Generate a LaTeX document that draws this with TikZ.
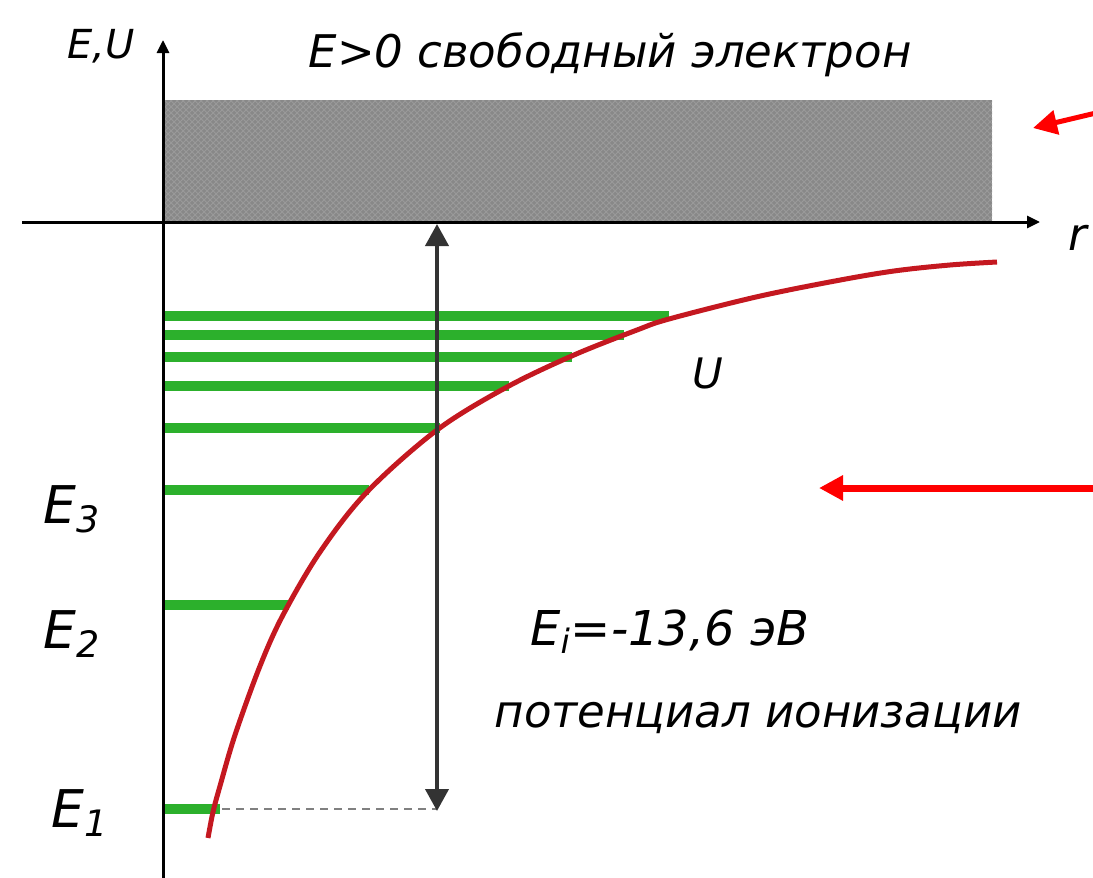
\documentclass[tikz,border=0pt]{standalone}
\usepackage{fontspec}
\setmainfont{DejaVu Sans}
\usetikzlibrary{arrows.meta,patterns}

\definecolor{levelgreen}{RGB}{44,176,44}
\definecolor{curvered}{RGB}{196,24,32}
\definecolor{bandgray}{RGB}{136,136,136}

\begin{document}
\begin{tikzpicture}[x=0.5pt,y=-0.5pt,
  level/.style={levelgreen,line width=5pt},
  lbl/.style={font=\itshape\fontsize{22.5}{26}\selectfont,inner sep=0pt,anchor=base},
  biglbl/.style={lbl,font=\itshape\fontsize{26}{30}\selectfont},
  pointer/.style={red,-{Triangle[length=12pt,width=12pt]}},
  axis/.style={line width=1.5pt,-{Triangle[length=6.5pt,width=6pt]}}]
\useasboundingbox (0,0) rectangle (1093,878);

% Points of the axes
\coordinate (ybot) at (163,878);
\coordinate (ytop) at (163,40);
\coordinate (xleft) at (22,222);
\coordinate (xright) at (1040,222);

% Band of free states
\fill[bandgray] (163,100) rectangle (992,222);
\fill[pattern=crosshatch,pattern color=bandgray!85!white] (163,100) rectangle (992,222);

% Energy levels
\foreach \y/\xe in {316/669,335/624,357/572,386/509,428/440,490/369,605/289,809/220}
  \draw[level] (163,\y) -- (\xe,\y);

% Potential energy U(r)
\draw[curvered,line width=2.5pt] plot[smooth,tension=0.55] coordinates {
  (208,838) (213,812) (220,786) (235,735) (260,666) (283,615) (320,552)
  (367,492) (437,430) (507,387) (574,355) (637,330) (669,319) (756,297)
  (835,281) (894,271) (950,265) (997,262)};

% Axes
\draw[axis] (ybot) -- (ytop);
\draw[axis] (xleft) -- (xright);

% Ionization energy
\coordinate (ionTop) at (437,224);
\coordinate (ionBot) at (437,811);
\coordinate (lvlOne) at (222,809);
\draw[gray,line width=1pt,dash pattern=on 4pt off 3pt] (lvlOne) -- (ionBot |- lvlOne);
\draw[black!80,line width=2pt,{Triangle[length=11pt,width=11.5pt]}-{Triangle[length=11pt,width=11.5pt]}] (ionTop) -- (ionBot);

% Red pointers
\coordinate (pA) at (1096,113);
\coordinate (pAtip) at (1033,128);
\coordinate (pB) at (1096,488);
\coordinate (pBtip) at (819,488);
\draw[pointer,line width=2.5pt] (pA) -- (pAtip);
\draw[pointer,line width=3.5pt] (pB) -- (pBtip);

% Labels
\node[lbl,font=\itshape\fontsize{20}{24}\selectfont] (EU) at (101,58) {E,U};
\node[lbl] (free) at (610,68) {E>0 свободный электрон};
\node[lbl] (rlbl) at (1078,250) {r};
\node[lbl,font=\itshape\fontsize{21}{25}\selectfont] (Ulbl) at (708,388) {U};
\node[biglbl] (E3) at (72,523) {E\textsubscript{3}};
\node[biglbl] (E2) at (72,648) {E\textsubscript{2}};
\node[biglbl] (E1) at (80,827) {E\textsubscript{1}};
\node[lbl,font=\itshape\fontsize{24}{28}\selectfont] (Ei) at (670,645) {E\textsubscript{i}=-13,6 эВ};
\node[lbl] (ion) at (758,727) {потенциал ионизации};

\end{tikzpicture}
\end{document}
